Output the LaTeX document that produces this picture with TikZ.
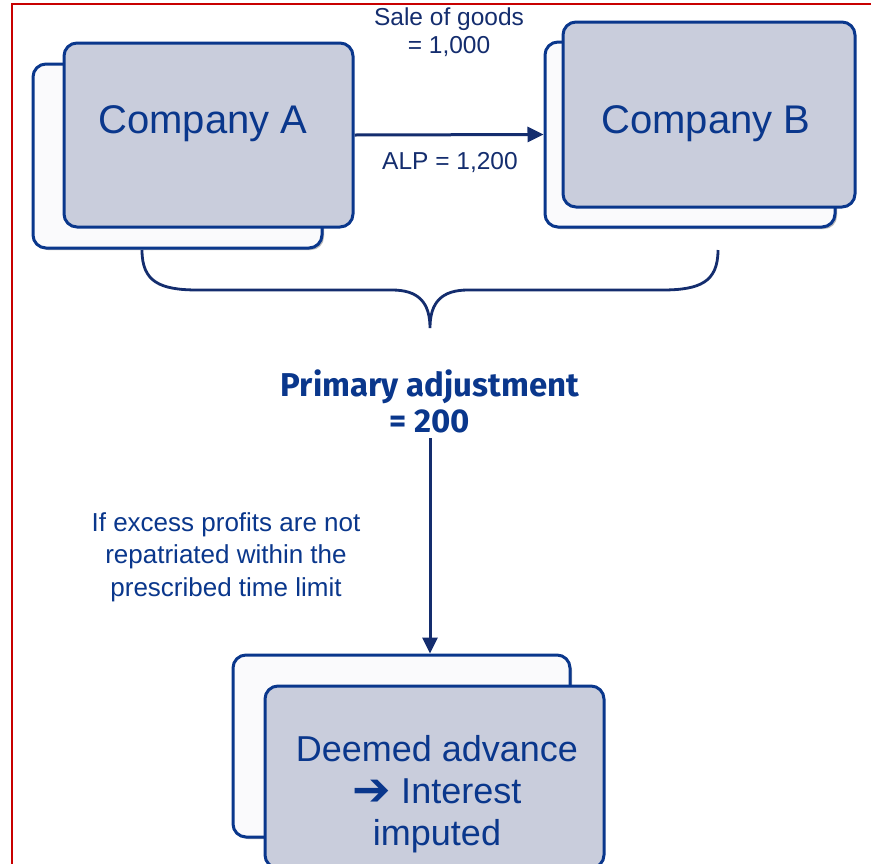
\documentclass[tikz,border=0pt]{standalone}
\usepackage{fontspec}
\setmainfont{Liberation Sans}
\newfontfamily\boldfam{Fira Sans}
\newfontfamily\symfam{DejaVu Sans}
\usetikzlibrary{arrows.meta,shadows}
\definecolor{navy}{RGB}{20,45,110}
\definecolor{tblue}{RGB}{10,55,140}
\definecolor{boxfill}{RGB}{201,205,220}
\definecolor{backfill}{RGB}{250,250,252}
\definecolor{framered}{RGB}{200,0,0}
\tikzset{
  frontbox/.style={draw=tblue, line width=3pt, fill=boxfill, rounded corners=13pt, inner sep=0pt},
  backbox/.style={draw=tblue, line width=3pt, fill=backfill, rounded corners=13pt, inner sep=0pt,
     drop shadow={shadow xshift=2pt, shadow yshift=-2pt, fill=gray!70, opacity=0.8}},
  bigtext/.style={text=tblue, font=\fontsize{40}{44}\selectfont, inner sep=0pt},
  midtext/.style={text=tblue, font=\fontsize{36}{42}\selectfont, align=center, inner sep=0pt},
  smalltext/.style={text=tblue, font=\fontsize{26}{32.5}\selectfont, align=center, inner sep=0pt},
  edgetext/.style={text=navy, font=\fontsize{24.5}{28}\selectfont, align=center, inner sep=0pt},
  boldtext/.style={text=tblue, font=\boldfam\bfseries\fontsize{33}{36}\selectfont, align=center, inner sep=0pt},
  conn/.style={draw=navy, line width=3pt, -{Triangle[length=16pt,width=15pt]}},
  bracestyle/.style={draw=navy, line width=2.8pt},
}
\begin{document}
\begin{tikzpicture}[x=1pt,y=-1pt]
\useasboundingbox (0,0) rectangle (871,863);
\clip (0,0) rectangle (871,863);
\fill[white] (0,0) rectangle (871,863);
\draw[framered, line width=2.4pt] (12,4) rectangle (900,900);

% Company A
\node[backbox, minimum width=289pt, minimum height=184pt] (aback) at (177.5,156) {};
\node[frontbox, minimum width=289pt, minimum height=184pt] (afront) at (208.5,135) {};
\node[bigtext] (atext) at (203,124) {Company A};

% Company B
\node[backbox, minimum width=290pt, minimum height=185pt] (bback) at (690,134.5) {};
\node[frontbox, minimum width=292pt, minimum height=185pt] (bfront) at (709,114.5) {};
\node[bigtext] (btext) at (706,124) {Company B};

% sale arrow
\draw[conn] (afront.east) -- (bback.west);
\node[edgetext] (sale) at (449,32) {Sale of goods\\= 1,000};
\node[edgetext] (alp) at (450,163) {ALP = 1,200};

% brace
\coordinate (bl) at (142,250);
\coordinate (br) at (718,250);
\coordinate (btip) at (430,328);
\draw[bracestyle] (bl) .. controls (142,282) and (160,290) .. (198,290) -- (392,290)
   .. controls (418,290) and (430,302) .. (btip)
   .. controls (430,302) and (442,290) .. (468,290) -- (662,290)
   .. controls (700,290) and (718,282) .. (br);

% primary adjustment
\node[boldtext] (pa) at (430,401) {Primary adjustment\\= 200};

% bottom boxes
\node[backbox, minimum width=337pt, minimum height=182pt] (dback) at (401.5,746) {};
\node[frontbox, minimum width=339pt, minimum height=182pt] (dfront) at (434.5,777) {};
\node[midtext] (dtext) at (437,794) {Deemed advance\\\raisebox{-2pt}[0pt][0pt]{\symfam\bfseries\fontsize{46}{46}\selectfont ➔} Interest\\imputed};

\coordinate (vtop) at (430,438);
\draw[conn] (vtop) -- (vtop |- dback.north);
\node[smalltext] (cond) at (226,557) {If excess profits are not\\repatriated within the\\prescribed time limit};
\end{tikzpicture}
\end{document}
